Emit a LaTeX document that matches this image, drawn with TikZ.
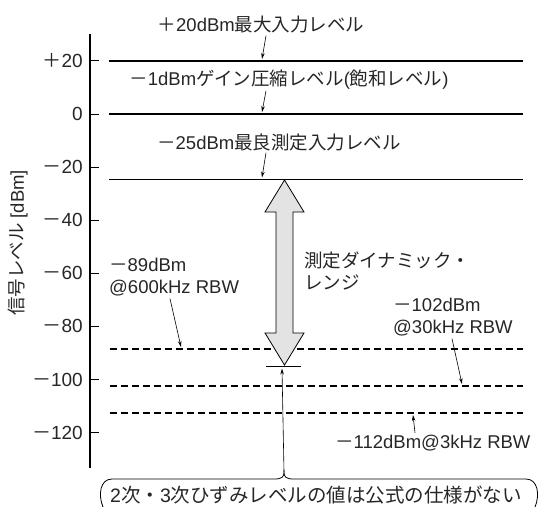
\documentclass[tikz,border=0pt]{standalone}
\usepackage{fontspec}
\setmainfont{Liberation Sans}
\newfontfamily\jp{Noto Sans CJK JP}
\usetikzlibrary{arrows.meta}
\begin{document}
\begin{tikzpicture}[x=1pt,y=-1pt,
  lbl/.style={inner sep=0pt, text=black!85, font=\fontsize{18.5}{22}\selectfont},
  ticklbl/.style={lbl, anchor=east, font=\fontsize{19}{22}\selectfont},
  lvl/.style={line width=1.8pt},
  dlvl/.style={line width=1.3pt, dash pattern=on 7pt off 4pt},
  tickmark/.style={line width=0.8pt},
  pointer/.style={line width=0.6pt, -{Stealth[length=6pt,width=3.5pt]}},
  rangearrow/.style={line width=0.8pt, fill=gray!22},
]
\useasboundingbox (0,0) rectangle (545,507);
% axis
\coordinate (axtop) at (90,34);
\coordinate (axbot) at (90,468);
\draw[line width=2pt] (axtop) -- (axbot);
\foreach \v/\y [count=\i] in {{{\jp ＋}20}/60.7, 0/114, {{\jp －}20}/167.1, {{\jp －}40}/220.2, {{\jp －}60}/273.3, {{\jp －}80}/326.4, {{\jp －}100}/379.5, {{\jp －}120}/432.6} {
  \coordinate (ta\i) at (90,\y);
  \coordinate (tb\i) at (99,\y);
  \draw[tickmark] (ta\i) -- (tb\i);
  \node[ticklbl] (tick\i) at (83,\y) {\v};
}
\node[lbl, rotate=90] (ylab) at (18,243) {{\jp 信号レベル} [dBm]};
% solid levels
\coordinate (s1a) at (109,60.7);  \coordinate (s1b) at (523,60.7);
\coordinate (s2a) at (109,114);   \coordinate (s2b) at (523,114);
\coordinate (s3a) at (109,179.5); \coordinate (s3b) at (523,179.5);
\draw[lvl] (s1a) -- (s1b);
\draw[lvl] (s2a) -- (s2b);
\draw[lvl] (s3a) -- (s3b);
% dashed levels
\coordinate (d1a) at (109.5,349); \coordinate (d1b) at (523,349);
\coordinate (d2a) at (109.5,386); \coordinate (d2b) at (523,386);
\coordinate (d3a) at (109.5,413); \coordinate (d3b) at (523,413);
\draw[dlvl] (d1a) -- (d1b);
\draw[dlvl] (d2a) -- (d2b);
\draw[dlvl] (d3a) -- (d3b);
% top labels
\node[lbl] (lab20) at (261,25) {{\jp ＋}20dBm{\jp 最大入力レベル}};
\coordinate (p20) at (262,59);
\draw[pointer] ([xshift=5pt,yshift=-2pt]lab20.south) -- (p20);
\node[lbl] (lab1) at (289,80) {{\jp －}1dBm{\jp ゲイン圧縮レベル}({\jp 飽和レベル})};
\coordinate (p1) at (262,112);
\draw[pointer] ([xshift=-23pt,yshift=-1pt]lab1.south) -- (p1);
\node[lbl] (lab25) at (279,142) {{\jp －}25dBm{\jp 最良測定入力レベル}};
\coordinate (p25) at (262,177.5);
\draw[pointer] ([xshift=-13pt,yshift=-2pt]lab25.south) -- (p25);
% dynamic range arrow
\draw[rangearrow] (284.5,180) -- (304,212) -- (293,212) -- (293,333) -- (304,333)
  -- (284.5,365) -- (265,333) -- (276,333) -- (276,212) -- (265,212) -- cycle;
\coordinate (bara) at (266,366); \coordinate (barb) at (301,366);
\draw[line width=1pt] (bara) -- (barb);
\node[lbl, align=left, anchor=west] (dr) at (304,271) {{\jp 測定ダイナミック・}\\{\jp レンジ}};
% noise floor labels
\node[lbl, align=left, anchor=west] (l89) at (109,277.5) {{\jp －}89dBm\\@600kHz RBW};
\coordinate (p89) at (181,347);
\draw[pointer] ([xshift=61pt,yshift=-2pt]l89.south west) -- (p89);
\node[lbl, align=left, anchor=west] (l102) at (393,317.5) {{\jp －}102dBm\\@30kHz RBW};
\coordinate (p102) at (462,384);
\draw[pointer] ([xshift=59pt,yshift=-2pt]l102.south west) -- (p102);
\node[lbl, anchor=west] (l112) at (335,443) {{\jp －}112dBm@3kHz RBW};
\coordinate (p112) at (413,415);
\draw[pointer] ([xshift=80pt,yshift=2pt]l112.north west) -- (p112);
% bottom note
\node[lbl, font=\fontsize{19.5}{22}\selectfont] (note) at (316,495) {2{\jp 次・}3{\jp 次ひずみレベルの値は公式の仕様がない}};
\coordinate (cusp) at (284,472);
\coordinate (bartip) at (282,368.5);
\draw[line width=0.8pt] (103,507) .. controls (98,495) and (100,479) .. (112,479) -- (274,479)
  .. controls (282,479) and (284,477) .. (cusp)
  .. controls (284,477) and (286,479) .. (294,479) -- (526,479)
  .. controls (538,479) and (540,495) .. (535,507);
\draw[pointer] (cusp) -- (bartip);
\end{tikzpicture}
\end{document}
